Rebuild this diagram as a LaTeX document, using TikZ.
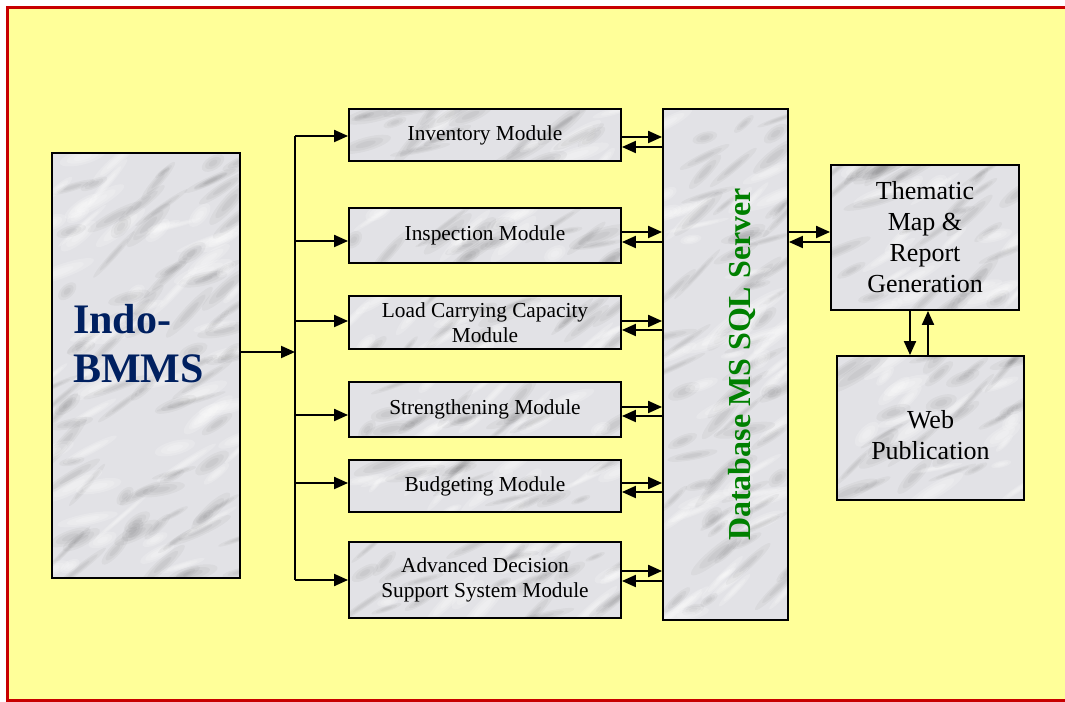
\documentclass[tikz,border=0pt]{standalone}
\usepackage{fontspec}
\setmainfont{Liberation Serif}
\usetikzlibrary{arrows.meta,calc}
\definecolor{bgyellow}{RGB}{255,255,153}
\definecolor{framered}{RGB}{200,0,0}
\definecolor{navytext}{RGB}{0,32,96}
\definecolor{dbgreen}{RGB}{0,128,0}
\definecolor{marblebase}{RGB}{226,226,230}
% marble-like texture drawn at an absolute rectangle: cx cy halfw halfh count
\newcommand\marbleat[5]{%
  \begin{scope}
    \clip (#1-#3,#2-#4) rectangle (#1+#3,#2+#4);
    \fill[marblebase] (#1-#3,#2-#4) rectangle (#1+#3,#2+#4);
    \foreach \k in {1,...,#5}{%
      \pgfmathsetmacro\mqx{#1+rand*#3}%
      \pgfmathsetmacro\mqy{#2+rand*#4}%
      \pgfmathsetmacro\mqa{10+26*rnd}%
      \pgfmathsetmacro\mqb{2.5+5*rnd}%
      \pgfmathsetmacro\mqr{10+40*rnd}%
      \pgfmathsetmacro\mqo{rnd}%
      \ifdim\mqo pt<0.4pt
        \foreach \s in {1,0.7,0.4}{%
          \fill[white,opacity=0.18,rotate around={\mqr:(\mqx,\mqy)}] (\mqx,\mqy) ellipse [x radius=\s*\mqa, y radius=\s*\mqb];}
      \else
        \foreach \s in {1,0.7,0.4}{%
          \fill[black,opacity=0.035,rotate around={\mqr:(\mqx,\mqy)}] (\mqx,\mqy) ellipse [x radius=\s*\mqa, y radius=\s*\mqb];}
      \fi
    }%
  \end{scope}}
\pgfmathsetseed{17}
\begin{document}
\begin{tikzpicture}[x=0.75pt,y=-0.75pt,
  box/.style={draw=black, line width=1.4pt, inner sep=0pt, align=center},
  modbox/.style={box, minimum width=204pt, font=\fontsize{16}{18.75}\selectfont},
  arr/.style={-{Triangle[length=10.5pt,width=9pt]}, line width=1.5pt},
  plain/.style={line width=1.5pt}]
\useasboundingbox (0,0) rectangle (1065,702);
\fill[white] (0,0) rectangle (1065,702);
\fill[bgyellow] (7.5,7.5) rectangle (1080,700.5);
\draw[framered, line width=2.25pt] (7.5,7.5) rectangle (1080,700.5);

% marble textures behind the boxes
\marbleat{146}{365.5}{94}{212.5}{140}
\marbleat{485}{135}{136}{26}{26}
\marbleat{485}{235.5}{136}{27.5}{26}
\marbleat{485}{322.5}{136}{26.5}{26}
\marbleat{485}{409.5}{136}{27.5}{26}
\marbleat{485}{486}{136}{26}{26}
\marbleat{485}{580}{136}{38}{36}
\marbleat{725.5}{364.5}{62.5}{255.5}{110}
\marbleat{925}{237.5}{94}{72.5}{46}
\marbleat{930.5}{428}{93.5}{72}{46}

% main blocks
\node[box, minimum width=141pt, minimum height=318.75pt,
  label={[font=\fontsize{31.5}{36.75}\selectfont\bfseries, text=navytext, align=left,
          xshift=-5.6pt, yshift=16.5pt]center:Indo-\\BMMS}] (bmms) at (146,365.5) {};

\node[modbox, minimum height=39pt]    (inv)  at (485,135)   {Inventory Module};
\node[modbox, minimum height=41.25pt] (insp) at (485,235.5) {Inspection Module};
\node[modbox, minimum height=39.75pt] (load) at (485,322.5) {Load Carrying Capacity\\Module};
\node[modbox, minimum height=41.25pt] (str)  at (485,409.5) {Strengthening Module};
\node[modbox, minimum height=39pt]    (bud)  at (485,486)   {Budgeting Module};
\node[modbox, minimum height=57pt]    (adv)  at (485,580)   {Advanced Decision\\Support System Module};

\node[box, minimum width=93.75pt, minimum height=383.25pt,
  label={[xshift=12.5pt, rotate=90, font=\fontsize{24}{28}\selectfont\bfseries, text=dbgreen]center:Database MS SQL Server}]
  (db) at (725.5,364.5) {};

\node[box, minimum width=141pt, minimum height=108.75pt,
  font=\fontsize{19.5}{23.3}\selectfont] (them) at (925,237.5)
  {Thematic\\Map \&\\Report\\Generation};

\node[box, minimum width=140.25pt, minimum height=108pt,
  label={[align=center, font=\fontsize{19.5}{23.3}\selectfont, yshift=-5.25pt]center:Web\\Publication}]
  (web) at (930.5,428) {};

% bus from Indo-BMMS to modules
\coordinate (bus) at (295,352);
\draw[arr] (bmms.east |- bus) -- (bus);
\draw[plain] (bus |- 0,136) -- (bus |- 0,580);
\draw[arr] (bus |- 0,136) -- (inv.west |- 0,136);
\draw[arr] (bus |- 0,241) -- (insp.west |- 0,241);
\draw[arr] (bus |- 0,321) -- (load.west |- 0,321);
\draw[arr] (bus |- 0,415) -- (str.west |- 0,415);
\draw[arr] (bus |- 0,483) -- (bud.west |- 0,483);
\draw[arr] (bus |- 0,580) -- (adv.west |- 0,580);

% modules <-> database
\draw[arr] (inv.east |- 0,137)  -- (db.west |- 0,137);
\draw[arr] (db.west |- 0,147)   -- (inv.east |- 0,147);
\draw[arr] (insp.east |- 0,232) -- (db.west |- 0,232);
\draw[arr] (db.west |- 0,242)   -- (insp.east |- 0,242);
\draw[arr] (load.east |- 0,321) -- (db.west |- 0,321);
\draw[arr] (db.west |- 0,330)   -- (load.east |- 0,330);
\draw[arr] (str.east |- 0,407)  -- (db.west |- 0,407);
\draw[arr] (db.west |- 0,416)   -- (str.east |- 0,416);
\draw[arr] (bud.east |- 0,483)  -- (db.west |- 0,483);
\draw[arr] (db.west |- 0,492)   -- (bud.east |- 0,492);
\draw[arr] (adv.east |- 0,571)  -- (db.west |- 0,571);
\draw[arr] (db.west |- 0,581)   -- (adv.east |- 0,581);

% database <-> thematic map
\draw[arr] (db.east |- 0,232) -- (them.west |- 0,232);
\draw[arr] (them.west |- 0,242) -- (db.east |- 0,242);

% thematic map <-> web publication
\draw[arr] (them.south -| 910,0) -- (web.north -| 910,0);
\draw[arr] (web.north -| 928,0) -- (them.south -| 928,0);
\end{tikzpicture}
\end{document}
